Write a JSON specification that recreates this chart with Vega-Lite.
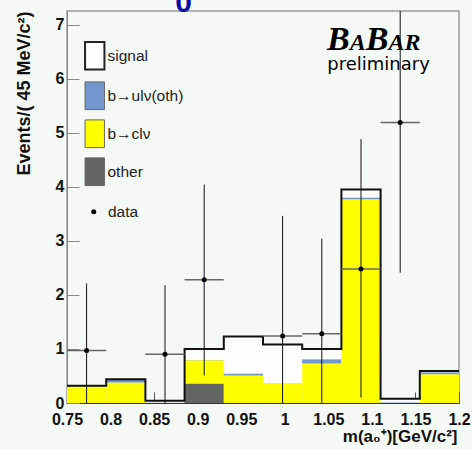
{
  "$schema": "https://vega.github.io/schema/vega-lite/v6.json",
  "autosize": "none",
  "width": 392,
  "height": 392,
  "padding": {"left": 67, "top": 11, "right": 13, "bottom": 46},
  "background": "#f5f9f5",
  "config": {
    "view": {"stroke": "#9a9a9a", "strokeWidth": 1.5},
    "font": "Liberation Sans"
  },
  "datasets": {
    "hist": [
      {"lo": 0.75, "hi": 0.795, "component": "b→clν", "n": 0.31},
      {"lo": 0.75, "hi": 0.795, "component": "b→ulν(oth)", "n": 0.005},
      {"lo": 0.75, "hi": 0.795, "component": "signal", "n": 0.005},
      {"lo": 0.795, "hi": 0.84, "component": "b→clν", "n": 0.38},
      {"lo": 0.795, "hi": 0.84, "component": "b→ulν(oth)", "n": 0.05},
      {"lo": 0.795, "hi": 0.84, "component": "signal", "n": 0.01},
      {"lo": 0.84, "hi": 0.885, "component": "b→ulν(oth)", "n": 0.005},
      {"lo": 0.84, "hi": 0.885, "component": "signal", "n": 0.035},
      {"lo": 0.885, "hi": 0.93, "component": "other", "n": 0.36},
      {"lo": 0.885, "hi": 0.93, "component": "b→clν", "n": 0.43},
      {"lo": 0.885, "hi": 0.93, "component": "b→ulν(oth)", "n": 0.005},
      {"lo": 0.885, "hi": 0.93, "component": "signal", "n": 0.205},
      {"lo": 0.93, "hi": 0.975, "component": "b→clν", "n": 0.51},
      {"lo": 0.93, "hi": 0.975, "component": "b→ulν(oth)", "n": 0.035},
      {"lo": 0.93, "hi": 0.975, "component": "signal", "n": 0.685},
      {"lo": 0.975, "hi": 1.02, "component": "b→clν", "n": 0.35},
      {"lo": 0.975, "hi": 1.02, "component": "b→ulν(oth)", "n": 0.01},
      {"lo": 0.975, "hi": 1.02, "component": "signal", "n": 0.72},
      {"lo": 1.02, "hi": 1.065, "component": "b→clν", "n": 0.73},
      {"lo": 1.02, "hi": 1.065, "component": "b→ulν(oth)", "n": 0.08},
      {"lo": 1.02, "hi": 1.065, "component": "signal", "n": 0.19},
      {"lo": 1.065, "hi": 1.11, "component": "b→clν", "n": 3.77},
      {"lo": 1.065, "hi": 1.11, "component": "b→ulν(oth)", "n": 0.03},
      {"lo": 1.065, "hi": 1.11, "component": "signal", "n": 0.15},
      {"lo": 1.11, "hi": 1.155, "component": "b→ulν(oth)", "n": 0.01},
      {"lo": 1.11, "hi": 1.155, "component": "signal", "n": 0.07},
      {"lo": 1.155, "hi": 1.2, "component": "b→clν", "n": 0.53},
      {"lo": 1.155, "hi": 1.2, "component": "b→ulν(oth)", "n": 0.04},
      {"lo": 1.155, "hi": 1.2, "component": "signal", "n": 0.02}
    ],
    "data": [
      {"x": 0.7725, "xlo": 0.75, "xhi": 0.795, "y": 0.97, "lo": 0.0, "hi": 2.21},
      {"x": 0.8625, "xlo": 0.84, "xhi": 0.885, "y": 0.9, "lo": 0.0, "hi": 2.18},
      {"x": 0.9075, "xlo": 0.885, "xhi": 0.93, "y": 2.28, "lo": 0.51, "hi": 4.04},
      {"x": 0.9975, "xlo": 0.975, "xhi": 1.02, "y": 1.24, "lo": 0.0, "hi": 3.46},
      {"x": 1.0425, "xlo": 1.02, "xhi": 1.065, "y": 1.28, "lo": 0.0, "hi": 3.04},
      {"x": 1.0875, "xlo": 1.065, "xhi": 1.11, "y": 2.48, "lo": 0.1, "hi": 4.88},
      {"x": 1.1325, "xlo": 1.11, "xhi": 1.155, "y": 5.19, "lo": 2.41, "hi": 7.25}
    ]
  },
  "layer": [
    {
      "data": {"name": "hist"},
      "transform": [
        {"calculate": "indexof(['other', 'b→clν', 'b→ulν(oth)', 'signal'], datum.component)", "as": "rank"},
        {"stack": "n", "groupby": ["lo", "hi"], "sort": [{"field": "rank", "order": "ascending"}], "as": ["y0", "y1"]}
      ],
      "mark": {"type": "rect"},
      "encoding": {
        "x": {
          "field": "lo",
          "type": "quantitative",
          "scale": {"domain": [0.75, 1.2], "nice": false, "zero": false},
          "axis": {
            "title": "m(a₀⁺)[GeV/c²]",
            "titleAnchor": "end",
            "titleFont": "Liberation Sans",
            "titleFontSize": 17,
            "titleFontWeight": "bold",
            "titleColor": "#111",
            "titlePadding": 1,
            "titleX": 390,
            "values": [0.75, 0.775, 0.8, 0.825, 0.85, 0.875, 0.9, 0.925, 0.95, 0.975, 1, 1.025, 1.05, 1.075, 1.1, 1.125, 1.15, 1.175, 1.2],
            "labelExpr": "round(datum.value * 40) % 2 === 0 ? format(datum.value, '~g') : ''",
            "labelFont": "Liberation Sans",
            "labelFontSize": 16,
            "labelFontWeight": "bold",
            "labelColor": "#111",
            "labelPadding": 19,
            "labelFlush": false,
            "labelOverlap": false,
            "labelBound": false,
            "tickSize": -11,
            "tickColor": "#555",
            "domainColor": "#333",
            "grid": false
          }
        },
        "x2": {"field": "hi"},
        "y": {
          "field": "y0",
          "type": "quantitative",
          "scale": {"domain": [0, 7.25], "nice": false},
          "axis": {
            "title": "Events/( 45 MeV/c²)",
            "titleAnchor": "end",
            "titleFont": "Liberation Sans",
            "titleFontSize": 18,
            "titleFontWeight": "bold",
            "titleColor": "#111",
            "titlePadding": 22,
            "values": [0, 0.5, 1, 1.5, 2, 2.5, 3, 3.5, 4, 4.5, 5, 5.5, 6, 6.5, 7],
            "labelExpr": "datum.value % 1 === 0 ? format(datum.value, 'd') : ''",
            "labelFont": "Liberation Sans",
            "labelFontSize": 16,
            "labelFontWeight": "bold",
            "labelColor": "#111",
            "labelPadding": 15,
            "tickSize": {"condition": {"test": "datum.value % 1 !== 0", "value": -6}, "value": -12},
            "tickColor": "#888",
            "domainColor": "#888",
            "grid": false
          }
        },
        "y2": {"field": "y1"},
        "fill": {
          "field": "component",
          "type": "nominal",
          "scale": {
            "domain": ["signal", "b→ulν(oth)", "b→clν", "other"],
            "range": ["#fcfdfc", "#7396cf", "#ffff00", "#626462"]
          },
          "legend": {
            "title": null,
            "orient": "none",
            "legendX": 20,
            "legendY": 37,
            "padding": 0,
            "symbolType": "M-0.7,-1H0.7V1H-0.7Z",
            "symbolSize": 767,
            "symbolStrokeWidth": 1,
            "symbolStrokeColor": "#555",
            "rowPadding": 5,
            "labelOffset": 5,
            "labelFont": "Liberation Sans",
            "labelFontSize": 15.5,
            "labelColor": "#222",
            "encode": {
              "symbols": {
                "update": {
                  "stroke": {"signal": "datum.value === 'signal' ? '#222' : '#666'"},
                  "strokeWidth": {"signal": "datum.value === 'signal' ? 2 : 1"}
                }
              }
            }
          }
        }
      }
    },
    {
      "data": {"name": "hist"},
      "transform": [
        {"aggregate": [{"op": "sum", "field": "n", "as": "total"}], "groupby": ["lo", "hi"]},
        {"fold": ["lo", "hi"], "as": ["side", "edge"]}
      ],
      "mark": {"type": "line", "color": "#111", "strokeWidth": 2},
      "encoding": {
        "x": {"field": "edge", "type": "quantitative", "title": "m(a₀⁺)[GeV/c²]"},
        "y": {"field": "total", "type": "quantitative", "title": "Events/( 45 MeV/c²)"},
        "order": [
          {"field": "edge", "type": "quantitative"},
          {"field": "side", "type": "nominal"}
        ]
      }
    },
    {
      "data": {"name": "data"},
      "mark": {"type": "rule", "color": "#666", "strokeWidth": 1.5},
      "encoding": {
        "x": {"field": "xlo", "type": "quantitative", "title": "m(a₀⁺)[GeV/c²]"},
        "x2": {"field": "xhi"},
        "y": {"field": "y", "type": "quantitative", "title": "Events/( 45 MeV/c²)"}
      }
    },
    {
      "data": {"name": "data"},
      "mark": {"type": "rule", "color": "#111", "strokeWidth": 1},
      "encoding": {
        "x": {"field": "x", "type": "quantitative", "title": "m(a₀⁺)[GeV/c²]"},
        "y": {"field": "lo", "type": "quantitative", "title": "Events/( 45 MeV/c²)"},
        "y2": {"field": "hi"}
      }
    },
    {
      "data": {"name": "data"},
      "mark": {"type": "point", "filled": true, "color": "#000", "opacity": 1, "size": 25},
      "encoding": {
        "x": {"field": "x", "type": "quantitative", "title": "m(a₀⁺)[GeV/c²]"},
        "y": {"field": "y", "type": "quantitative", "title": "Events/( 45 MeV/c²)"},
        "shape": {
          "datum": "data",
          "scale": {"range": ["circle"]},
          "legend": {
            "title": null,
            "orient": "none",
            "legendX": 19,
            "legendY": 193,
            "padding": 0,
            "symbolSize": 25,
            "symbolFillColor": "#000",
            "symbolStrokeColor": "#000",
            "labelOffset": 6.5,
            "labelFont": "Liberation Sans",
            "labelFontSize": 15.5,
            "labelColor": "#222"
          }
        }
      }
    },
    {
      "data": {"values": [{}]},
      "mark": {"type": "text", "text": "0", "font": "Liberation Sans", "fontWeight": "bold", "fontSize": 30, "align": "center", "baseline": "alphabetic", "dy": 0.5, "color": "#0a0aa8"},
      "encoding": {
        "x": {"datum": 0.8839, "type": "quantitative"},
        "y": {"datum": 7.25, "type": "quantitative"}
      }
    },
    {
      "data": {"values": [{}]},
      "mark": {"type": "text", "text": "B", "font": "Liberation Serif", "fontStyle": "italic", "fontWeight": "bold", "fontSize": 34, "align": "left", "baseline": "alphabetic", "color": "#000"},
      "encoding": {
        "x": {"datum": 1.0485, "type": "quantitative"},
        "y": {"datum": 6.528, "type": "quantitative"}
      }
    },
    {
      "data": {"values": [{}]},
      "mark": {"type": "text", "text": "A", "font": "Liberation Serif", "fontStyle": "italic", "fontWeight": "bold", "fontSize": 24, "align": "left", "baseline": "alphabetic", "color": "#000"},
      "encoding": {
        "x": {"datum": 1.0746, "type": "quantitative"},
        "y": {"datum": 6.528, "type": "quantitative"}
      }
    },
    {
      "data": {"values": [{}]},
      "mark": {"type": "text", "text": "B", "font": "Liberation Serif", "fontStyle": "italic", "fontWeight": "bold", "fontSize": 34, "align": "left", "baseline": "alphabetic", "color": "#000"},
      "encoding": {
        "x": {"datum": 1.0929, "type": "quantitative"},
        "y": {"datum": 6.528, "type": "quantitative"}
      }
    },
    {
      "data": {"values": [{}]},
      "mark": {"type": "text", "text": "AR", "font": "Liberation Serif", "fontStyle": "italic", "fontWeight": "bold", "fontSize": 24, "align": "left", "baseline": "alphabetic", "color": "#000"},
      "encoding": {
        "x": {"datum": 1.119, "type": "quantitative"},
        "y": {"datum": 6.528, "type": "quantitative"}
      }
    },
    {
      "data": {"values": [{}]},
      "mark": {"type": "text", "text": "preliminary", "font": "DejaVu Sans", "fontSize": 18, "align": "left", "baseline": "alphabetic", "color": "#000"},
      "encoding": {
        "x": {"datum": 1.0488, "type": "quantitative"},
        "y": {"datum": 6.167, "type": "quantitative"}
      }
    }
  ]
}
